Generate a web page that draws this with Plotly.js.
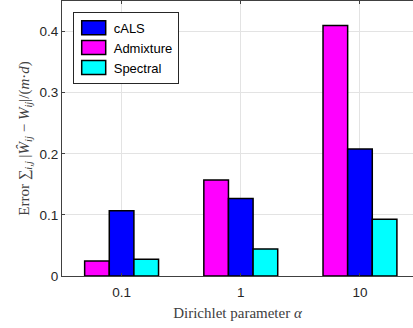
<!DOCTYPE html>
<html>
<head>
<meta charset="utf-8">
<script src="https://cdn.plot.ly/plotly-3.0.1.min.js"></script>
<style>
html,body{margin:0;padding:0;overflow:hidden;background:#fff;width:413px;height:328px;}
#chart{position:absolute;left:0;top:0;width:413px;height:328px;overflow:hidden;}
</style>
</head>
<body>
<div id="chart"></div>
<script>
const categories = ["0.1", "1", "10"];
const admixture = [0.0246, 0.157, 0.410];
const cals = [0.1066, 0.127, 0.208];
const spectral = [0.0274, 0.0443, 0.093];
const yTicks = [0, 0.1, 0.2, 0.3, 0.4];

const xpos = categories.map((c, i) => i + 1);
const barLine = {color: '#000000', width: 1.5};

const traces = [
  {type: 'bar', name: 'Admixture', x: xpos, y: admixture, legendrank: 2,
   marker: {color: '#ff00ff', line: barLine}},
  {type: 'bar', name: 'cALS', x: xpos, y: cals, legendrank: 1,
   marker: {color: '#0000ff', line: barLine}},
  {type: 'bar', name: 'Spectral', x: xpos, y: spectral, legendrank: 3,
   marker: {color: '#00ffff', line: barLine}}
];

const tickFont = {family: 'Liberation Sans, Arial, sans-serif', size: 13.5, color: '#262626'};
const titleFont = {family: 'Liberation Serif, DejaVu Serif, serif', size: 15, color: '#404040'};

const layout = {
  width: 413, height: 328,
  margin: {l: 62, r: 0, t: 1, b: 52},
  paper_bgcolor: '#ffffff', plot_bgcolor: '#ffffff',
  barmode: 'group', bargap: 0.38, bargroupgap: 0,
  showlegend: true,
  legend: {x: 0.0305, y: 0.961, xanchor: 'left', yanchor: 'top',
           bgcolor: '#ffffff', bordercolor: '#262626', borderwidth: 1,
           font: {family: 'Liberation Sans, Arial, sans-serif', size: 13, color: '#000000'},
           tracegroupgap: 0},
  xaxis: {range: [0.5, 3.445], tickvals: xpos, ticktext: categories,
          showgrid: true, gridcolor: '#e3e3e3', gridwidth: 1,
          showline: true, linecolor: '#404040', linewidth: 1, mirror: 'ticks',
          ticks: 'inside', ticklen: 3, tickcolor: '#404040', ticklabelstandoff: 4,
          tickfont: tickFont, zeroline: false, fixedrange: true, automargin: false,
          title: {text: 'Dirichlet parameter <i>α</i>', font: titleFont, standoff: 8}},
  yaxis: {range: [0, 0.45], tickvals: yTicks, ticktext: yTicks.map(v => String(v)),
          showgrid: true, gridcolor: '#e3e3e3', gridwidth: 1,
          showline: true, linecolor: '#404040', linewidth: 1, mirror: false,
          ticks: 'inside', ticklen: 3, tickcolor: '#404040',
          tickfont: tickFont, zeroline: false, fixedrange: true, automargin: false,
          title: {text: 'Error ∑<sub><i>i,j</i></sub> |<i>Ŵ</i><sub><i>ij</i></sub> − <i>W</i><sub><i>ij</i></sub>|/(<i>m</i>·<i>d</i>)', font: titleFont, standoff: 6}}
};

Plotly.newPlot('chart', traces, layout, {displayModeBar: false, staticPlot: true}).then(function (gd) {
  document.querySelectorAll('.legend .legendpoints path').forEach(function (p) {
    p.setAttribute('d', 'M-12,-7H12V7H-12Z');
  });
});
</script>
</body>
</html>
